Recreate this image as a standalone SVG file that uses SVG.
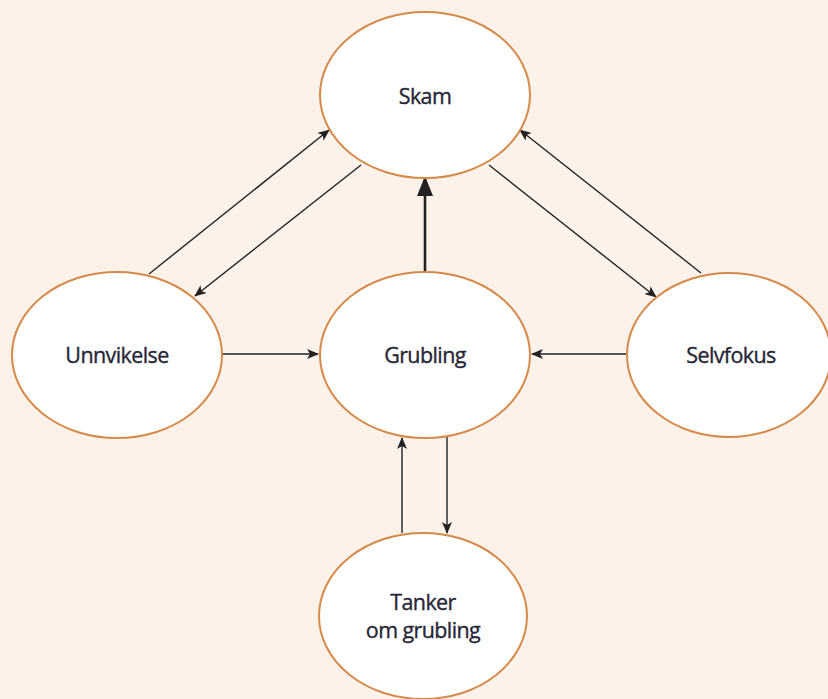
<svg xmlns="http://www.w3.org/2000/svg" width="828" height="699" viewBox="0 0 828 699">
<style>
.node ellipse{fill:#ffffff;stroke:#d68a4a;stroke-width:2}
.node text{font-family:"Open Sans","Liberation Sans",sans-serif;font-size:21.5px;letter-spacing:-0.6px;fill:#262636;stroke:#262636;stroke-width:0.35;text-anchor:middle}
.edge{stroke:#222;stroke-width:1.4;fill:none;marker-end:url(#ah)}
.thick{stroke:#222;stroke-width:2.6;fill:none;marker-end:url(#ahb)}
</style>
<defs>
<marker id="ah" markerUnits="userSpaceOnUse" markerWidth="12" markerHeight="10" refX="11" refY="5" orient="auto"><path d="M0,0 L12,5 L0,10 L3,5 Z" fill="#222"/></marker>
<marker id="ahb" markerUnits="userSpaceOnUse" markerWidth="20" markerHeight="16" refX="19" refY="8" orient="auto"><path d="M0,0 L20,8 L0,16 Z" fill="#222"/></marker>
</defs>
<rect width="828" height="699" fill="#fcf2ea"/>
<g id="connectors">
<line class="edge" x1="149" y1="274" x2="329" y2="130"/>
<line class="edge" x1="361" y1="165" x2="195" y2="296"/>
<line class="thick" x1="425" y1="272" x2="425" y2="177"/>
<line class="edge" x1="222" y1="354" x2="318" y2="354"/>
<line class="edge" x1="627" y1="354" x2="532" y2="354"/>
<line class="edge" x1="489" y1="165" x2="656" y2="297"/>
<line class="edge" x1="701" y1="273" x2="520" y2="130"/>
<line class="edge" x1="402" y1="533" x2="402" y2="438"/>
<line class="edge" x1="447" y1="437" x2="447" y2="533"/>
</g>
<g id="skam" class="node"><ellipse cx="425" cy="95" rx="105" ry="83"/><text x="425" y="104">Skam</text></g>
<g id="unnvikelse" class="node"><ellipse cx="117" cy="355" rx="105" ry="83"/><text x="117" y="363">Unnvikelse</text></g>
<g id="grubling" class="node"><ellipse cx="425" cy="355" rx="105" ry="83"/><text x="425" y="363">Grubling</text></g>
<g id="selvfokus" class="node"><ellipse cx="729" cy="355" rx="102" ry="82"/><text x="731" y="363">Selvfokus</text></g>
<g id="tanker" class="node"><ellipse cx="423" cy="616" rx="104" ry="83"/><text x="423" y="610">Tanker</text><text x="423" y="638">om grubling</text></g>
</svg>
